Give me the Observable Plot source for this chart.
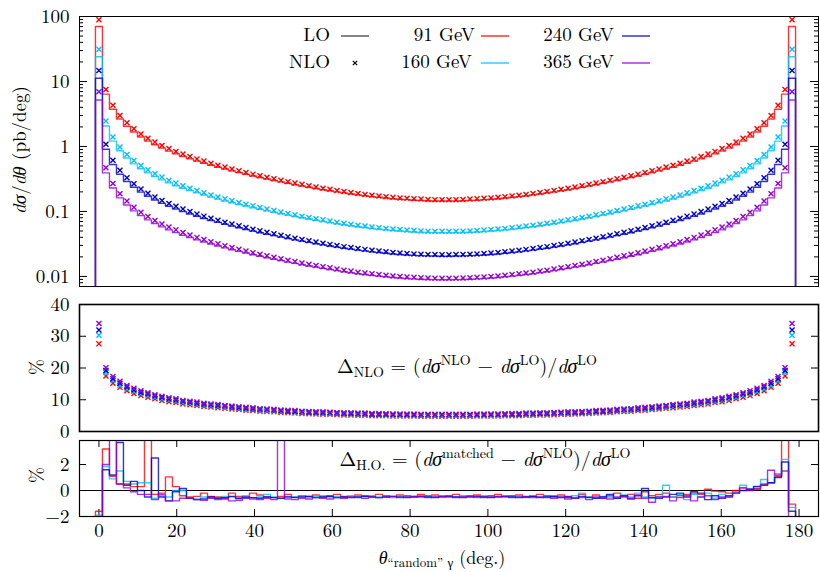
<!DOCTYPE html>
<html><head><meta charset="utf-8">
<script src="https://cdn.jsdelivr.net/npm/d3@7"></script>
<script src="https://cdn.jsdelivr.net/npm/@observablehq/plot@0.6"></script>
<style>
body{margin:0;background:#fff;}
#chart{position:relative;width:820px;height:572px;}
#chart svg{display:block;overflow:visible;}
</style></head><body><div id="chart"></div>
<script>
// ---------------- DATA ----------------
// bin positions (deg), 100 bins of 1.8 deg
const theta = d3.range(100).map(k => +(k * 1.8).toFixed(1));
const energies = ["91 GeV", "160 GeV", "240 GeV", "365 GeV"];
const colors = ["#ff0000", "#00bfff", "#0000cd", "#9400d3"];

// LO dσ/dθ (pb/deg)
const lo91 = [70,6.39,3.74,2.64,2.05,1.67,1.40,1.21,1.06,0.944,0.848,0.769,0.702,0.645,0.595,0.552,0.514,0.479,0.449,0.421,0.396,0.373,0.352,0.333,0.316,0.300,0.285,0.271,0.258,0.247,0.236,0.226,0.216,0.208,0.200,0.193,0.186,0.180,0.174,0.169,0.165,0.161,0.157,0.154,0.152,0.149,0.148,0.146,0.145,0.145,
0.145,0.145,0.146,0.148,0.149,0.152,0.154,0.157,0.161,0.165,0.169,0.174,0.180,0.186,0.193,0.200,0.208,0.216,0.226,0.236,0.247,0.258,0.271,0.285,0.300,0.316,0.333,0.352,0.373,0.396,0.421,0.449,0.479,0.514,0.552,0.595,0.645,0.702,0.769,0.848,0.944,1.06,1.21,1.40,1.67,2.05,2.64,3.74,6.39,70];
const lo160 = [24,2.07,1.21,0.857,0.663,0.540,0.455,0.392,0.344,0.306,0.275,0.249,0.228,0.209,0.193,0.179,0.166,0.155,0.145,0.136,0.128,0.121,0.114,0.108,0.102,0.0971,0.0923,0.0879,0.0838,0.0799,0.0765,0.0732,0.0702,0.0674,0.0648,0.0625,0.0603,0.0583,0.0565,0.0549,0.0534,0.0521,0.0509,0.0500,0.0491,0.0484,0.0478,0.0474,0.0471,0.0470,
0.0470,0.0471,0.0474,0.0478,0.0484,0.0491,0.0500,0.0509,0.0521,0.0534,0.0549,0.0565,0.0583,0.0603,0.0625,0.0648,0.0674,0.0702,0.0732,0.0765,0.0799,0.0838,0.0879,0.0923,0.0971,0.102,0.108,0.114,0.121,0.128,0.136,0.145,0.155,0.166,0.179,0.193,0.209,0.228,0.249,0.275,0.306,0.344,0.392,0.455,0.540,0.663,0.857,1.21,2.07,24];
const lo240 = [11.2,0.904,0.528,0.374,0.289,0.236,0.198,0.171,0.150,0.133,0.120,0.109,0.0993,0.0912,0.0842,0.0780,0.0726,0.0678,0.0634,0.0595,0.0560,0.0528,0.0498,0.0471,0.0446,0.0424,0.0403,0.0383,0.0365,0.0349,0.0334,0.0319,0.0306,0.0294,0.0283,0.0272,0.0263,0.0254,0.0247,0.0239,0.0233,0.0227,0.0222,0.0218,0.0214,0.0211,0.0209,0.0207,0.0206,0.0205,
0.0205,0.0206,0.0207,0.0209,0.0211,0.0214,0.0218,0.0222,0.0227,0.0233,0.0239,0.0247,0.0254,0.0263,0.0272,0.0283,0.0294,0.0306,0.0319,0.0334,0.0349,0.0365,0.0383,0.0403,0.0424,0.0446,0.0471,0.0498,0.0528,0.0560,0.0595,0.0634,0.0678,0.0726,0.0780,0.0842,0.0912,0.0993,0.109,0.120,0.133,0.150,0.171,0.198,0.236,0.289,0.374,0.528,0.904,11.2];
const lo365 = [5.2,0.392,0.229,0.162,0.126,0.102,0.0862,0.0743,0.0651,0.0579,0.0521,0.0472,0.0431,0.0396,0.0365,0.0339,0.0315,0.0294,0.0275,0.0258,0.0243,0.0229,0.0216,0.0205,0.0194,0.0184,0.0175,0.0166,0.0159,0.0151,0.0145,0.0139,0.0133,0.0128,0.0123,0.0118,0.0114,0.0110,0.0107,0.0104,0.0101,0.00987,0.00965,0.00946,0.00930,0.00917,0.00906,0.00898,0.00893,0.00890,
0.00890,0.00893,0.00898,0.00906,0.00917,0.00930,0.00946,0.00965,0.00987,0.0101,0.0104,0.0107,0.0110,0.0114,0.0118,0.0123,0.0128,0.0133,0.0139,0.0145,0.0151,0.0159,0.0166,0.0175,0.0184,0.0194,0.0205,0.0216,0.0229,0.0243,0.0258,0.0275,0.0294,0.0315,0.0339,0.0365,0.0396,0.0431,0.0472,0.0521,0.0579,0.0651,0.0743,0.0862,0.102,0.126,0.162,0.229,0.392,5.2];

// Δ_NLO (%)
const dn91 = [27.6,17.5,15.2,13.9,12.8,12.0,11.3,10.8,10.3,9.8,9.4,9.1,8.7,8.4,8.2,7.9,7.7,7.5,7.3,7.1,6.9,6.7,6.6,6.4,6.3,6.2,6.0,5.9,5.8,5.7,5.6,5.5,5.45,5.4,5.3,5.2,5.2,5.1,5.1,5.0,5.0,4.95,4.9,4.9,4.85,4.85,4.8,4.8,4.8,4.8,
4.8,4.8,4.8,4.8,4.85,4.85,4.9,4.9,4.95,5.0,5.0,5.1,5.1,5.2,5.2,5.3,5.4,5.45,5.5,5.6,5.7,5.8,5.9,6.0,6.2,6.3,6.4,6.6,6.7,6.9,7.1,7.3,7.5,7.7,7.9,8.2,8.4,8.7,9.1,9.4,9.8,10.3,10.8,11.3,12.0,12.8,13.9,15.2,17.5,27.6];
const dn160 = [30.3,18.6,16.0,14.6,13.4,12.6,11.9,11.3,10.8,10.3,9.9,9.6,9.1,8.8,8.6,8.3,8.1,7.9,7.7,7.5,7.2,7.0,6.9,6.7,6.6,6.5,6.3,6.2,6.1,6.0,5.9,5.8,5.7,5.7,5.6,5.5,5.5,5.4,5.4,5.25,5.25,5.2,5.15,5.15,5.1,5.1,5.05,5.05,5.05,5.05,
5.05,5.05,5.05,5.05,5.1,5.1,5.15,5.15,5.2,5.25,5.25,5.4,5.4,5.5,5.5,5.6,5.7,5.7,5.8,5.9,6.0,6.1,6.2,6.3,6.5,6.6,6.7,6.9,7.0,7.2,7.5,7.7,7.9,8.1,8.3,8.6,8.8,9.1,9.6,9.9,10.3,10.8,11.3,11.9,12.6,13.4,14.6,16.0,18.6,30.3];
const dn240 = [32.0,19.2,16.6,15.2,14.0,13.1,12.3,11.8,11.2,10.7,10.2,9.9,9.5,9.2,8.9,8.6,8.4,8.2,8.0,7.7,7.5,7.3,7.2,7.0,6.9,6.8,6.5,6.4,6.3,6.2,6.1,6.0,5.9,5.9,5.8,5.7,5.7,5.6,5.6,5.45,5.45,5.4,5.35,5.35,5.3,5.3,5.25,5.25,5.25,5.25,
5.25,5.25,5.25,5.25,5.3,5.3,5.35,5.35,5.4,5.45,5.45,5.6,5.6,5.7,5.7,5.8,5.9,5.9,6.0,6.1,6.2,6.3,6.4,6.5,6.8,6.9,7.0,7.2,7.3,7.5,7.7,8.0,8.2,8.4,8.6,8.9,9.2,9.5,9.9,10.2,10.7,11.2,11.8,12.3,13.1,14.0,15.2,16.6,19.2,32.0];
const dn365 = [34.0,20.1,17.3,15.8,14.5,13.6,12.8,12.2,11.6,11.1,10.6,10.3,9.8,9.5,9.3,8.9,8.7,8.5,8.2,8.0,7.8,7.6,7.5,7.2,7.1,7.0,6.8,6.7,6.6,6.4,6.3,6.2,6.2,6.1,6.0,5.9,5.9,5.8,5.8,5.65,5.65,5.6,5.55,5.55,5.5,5.5,5.4,5.4,5.4,5.4,
5.4,5.4,5.4,5.4,5.5,5.5,5.55,5.55,5.6,5.65,5.65,5.8,5.8,5.9,5.9,6.0,6.1,6.2,6.2,6.3,6.4,6.6,6.7,6.8,7.0,7.1,7.2,7.5,7.6,7.8,8.0,8.2,8.5,8.7,8.9,9.3,9.5,9.8,10.3,10.6,11.1,11.6,12.2,12.8,13.6,14.5,15.8,17.3,20.1,34.0];

// Δ_H.O. (%)
const dh91 = [-1.6,3.2,1.1,0.5,0.5,0.3,0.3,8,-0.3,-0.2,1.05,0.3,-0.4,-0.5,-0.45,-0.2,-0.45,-0.5,-0.6,-0.2,-0.45,-0.55,-0.2,-0.35,-0.5,-0.55,-0.45,-0.3,-0.5,-0.4,-0.45,-0.35,-0.5,-0.4,-0.3,-0.45,-0.5,-0.35,-0.4,-0.45,-0.3,-0.4,-0.5,-0.35,-0.4,-0.45,-0.3,-0.4,-0.35,-0.45,
-0.4,-0.3,-0.45,-0.4,-0.35,-0.5,-0.4,-0.3,-0.45,-0.4,-0.35,-0.5,-0.45,-0.3,-0.4,-0.5,-0.35,-0.45,-0.6,-0.3,-0.5,-0.35,-0.6,-0.4,-0.2,-0.5,-0.3,-0.6,-0.1,-0.4,-0.3,-0.2,-0.5,-0.4,-0.3,-0.2,-0.3,0.1,-0.05,-0.1,-0.2,0.0,0.2,0.1,0.15,0.5,0.6,1.1,8,-1.05];
const dh160 = [-1.9,1.85,0.9,1.5,0.7,0.5,0.6,0.6,-0.6,-0.4,-0.5,0.0,0.0,-0.6,-0.65,-0.5,-0.55,-0.6,-0.45,-0.5,-0.6,-0.4,-0.55,-0.5,-0.3,-0.5,-0.6,-0.45,-0.5,-0.4,-0.55,-0.45,-0.4,-0.5,-0.45,-0.55,-0.4,-0.5,-0.45,-0.4,-0.5,-0.45,-0.55,-0.4,-0.45,-0.5,-0.4,-0.45,-0.5,-0.4,
-0.45,-0.5,-0.4,-0.45,-0.55,-0.4,-0.5,-0.45,-0.4,-0.5,-0.45,-0.55,-0.4,-0.5,-0.45,-0.4,-0.5,-0.55,-0.4,-0.2,-0.5,-0.6,-0.45,-0.5,-0.6,-0.35,-0.5,-0.2,-0.5,-0.6,-0.45,0.4,-0.5,-0.3,-0.7,-0.3,-0.5,-0.2,-0.6,-0.3,-0.5,-0.1,0.4,0.1,0.33,0.85,0.6,1.3,2.4,-1.3];
const dh240 = [-2.5,1.6,1.2,3.7,0.4,0.7,0.0,-0.5,2.5,-0.5,-0.8,-0.1,0.15,-0.6,-0.7,-0.65,-0.5,-0.6,-0.55,-0.45,-0.6,-0.5,-0.55,-0.6,-0.5,-0.55,-0.6,-0.5,-0.55,-0.5,-0.45,-0.55,-0.5,-0.45,-0.55,-0.5,-0.55,-0.5,-0.45,-0.5,-0.55,-0.5,-0.45,-0.5,-0.55,-0.5,-0.45,-0.5,-0.55,-0.5,
-0.45,-0.5,-0.55,-0.5,-0.45,-0.5,-0.55,-0.5,-0.45,-0.5,-0.55,-0.5,-0.45,-0.55,-0.5,-0.45,-0.55,-0.5,-0.6,-0.45,-0.55,-0.6,-0.5,-0.3,-0.6,-0.4,-0.65,-0.4,0.15,-0.55,-0.6,-0.5,-0.3,-0.2,-0.5,-0.1,-0.2,-0.7,-0.4,-0.6,-0.4,-0.2,0.0,0.1,0.3,0.4,0.6,1.0,2.2,-1.6];
const dh365 = [-3,2.0,6,0.5,0.2,-0.1,-0.3,-0.3,-0.7,-0.3,-0.8,-0.8,-0.6,-0.6,-0.7,-0.75,-0.6,-0.7,-0.65,-0.8,-0.75,-0.6,-0.65,-0.7,-0.6,-0.7,8,-0.65,-0.7,-0.6,-0.65,-0.55,-0.6,-0.65,-0.55,-0.6,-0.5,-0.55,-0.6,-0.5,-0.55,-0.5,-0.45,-0.55,-0.5,-0.45,-0.5,-0.55,-0.5,-0.45,
-0.5,-0.55,-0.5,-0.45,-0.5,-0.55,-0.5,-0.45,-0.5,-0.55,-0.5,-0.45,-0.55,-0.5,-0.55,-0.6,-0.5,-0.65,-0.6,-0.55,-0.7,-0.5,-0.6,-0.65,-0.5,-0.45,-0.6,-0.35,-0.6,-0.9,-0.5,-0.45,-0.8,-0.55,-0.4,-0.8,-0.5,-0.4,-0.7,-0.5,-0.5,-0.2,0.2,0.0,0.1,0.4,1.56,1.2,1.5,-2.5];

const yTopTicks = [0.01, 0.1, 1, 10, 100];
const yTopMinor = [0.008,0.009,0.02,0.03,0.04,0.05,0.06,0.07,0.08,0.09,0.2,0.3,0.4,0.5,0.6,0.7,0.8,0.9,2,3,4,5,6,7,8,9,20,30,40,50,60,70,80,90];
const yMidTicks = [0, 10, 20, 30, 40];
const yBotTicks = [-2, 0, 2];
const xTicks = [0, 20, 40, 60, 80, 100, 120, 140, 160, 180];

// ---------------- BUILD ----------------
const LO = [lo91, lo160, lo240, lo365];
const DN = [dn91, dn160, dn240, dn365];
const DH = [dh91, dh160, dh240, dh365];
[...LO, ...DN, ...DH].forEach((a, i) => { if (a.length !== 100) throw new Error("array " + i + " has length " + a.length); });

const FONT = "'Latin Modern Roman', 'Liberation Serif', serif";
const W = 820, ML = 79, MR = 2, FW = W - ML - MR;
const xDomain = [-5, 185];
const baseStyle = {fontFamily: FONT, fontSize: "19px", color: "black", overflow: "visible"};

function stepRows(vals, low) {
  return [{x: -1.8, y: low}, ...vals.map((v, i) => ({x: theta[i], y: v})), {x: 180, y: low}];
}
function yTicksMarks(major, minor, len, minorLen, frameW) {
  const m = [
    Plot.tickY(major, {y: d => d, insetRight: frameW - len, stroke: "black"}),
    Plot.tickY(major, {y: d => d, insetLeft: frameW - len, stroke: "black"})
  ];
  if (minor) {
    m.push(Plot.tickY(minor, {y: d => d, insetRight: frameW - minorLen, stroke: "black"}));
    m.push(Plot.tickY(minor, {y: d => d, insetLeft: frameW - minorLen, stroke: "black"}));
  }
  return m;
}

// Top panel
const topMarks = [
  Plot.axisY({ticks: yTopTicks, tickSize: 0, tickPadding: 10, tickFormat: d => String(d), label: null}),
  ...yTicksMarks(yTopTicks, yTopMinor, 8, 4, FW)
];
LO.forEach((lo, s) => {
  topMarks.push(Plot.line(stepRows(lo, 1e-4), {x: "x", y: "y", curve: "step", stroke: colors[s], strokeWidth: 1.4, strokeOpacity: 0.8, clip: true}));
});
LO.forEach((lo, s) => {
  const rows = lo.map((v, i) => ({x: theta[i], y: v * (1 + DN[s][i] / 100)}));
  topMarks.push(Plot.dot(rows, {x: "x", y: "y", symbol: "times", r: 2.4, stroke: colors[s], strokeWidth: 1.4, clip: true}));
});
topMarks.push(Plot.frame({stroke: "black", strokeWidth: 1}));
const topPlot = Plot.plot({
  width: W, height: 290, marginLeft: ML, marginRight: MR, marginTop: 16, marginBottom: 4,
  style: {...baseStyle, background: "white"},
  x: {domain: xDomain, axis: null},
  y: {type: "log", domain: [0.007, 100], axis: null},
  marks: topMarks
});

// Middle panel
const midMarks = [
  Plot.axisY({ticks: yMidTicks, tickSize: 0, tickPadding: 10, label: null}),
  ...yTicksMarks(yMidTicks, null, 7, 0, FW)
];
DN.forEach((dn, s) => {
  const rows = dn.map((v, i) => ({x: theta[i], y: v}));
  midMarks.push(Plot.dot(rows, {x: "x", y: "y", symbol: "times", r: 2.4, stroke: colors[s], strokeWidth: 1.4, clip: true}));
});
midMarks.push(Plot.frame({stroke: "black", strokeWidth: 1.6}));
const midPlot = Plot.plot({
  width: W, height: 145, marginLeft: ML, marginRight: MR, marginTop: 14, marginBottom: 4,
  style: {...baseStyle, background: "transparent"},
  x: {domain: xDomain, axis: null},
  y: {domain: [0, 40], axis: null},
  marks: midMarks
});

// Bottom panel
const BH = 76;
const botMarks = [
  Plot.axisY({ticks: yBotTicks, tickSize: 0, tickPadding: 10, label: null, tickFormat: d => d < 0 ? "\u2212" + (-d) : String(d)}),
  Plot.axisX({ticks: xTicks, tickSize: 0, tickPadding: 7, label: null}),
  ...yTicksMarks(yBotTicks, null, 7, 0, FW),
  Plot.tickX(xTicks, {x: d => d, insetTop: BH - 7, stroke: "black"}),
  Plot.tickX(xTicks, {x: d => d, insetBottom: BH - 7, stroke: "black"}),
  Plot.ruleY([0], {stroke: "black", strokeWidth: 1})
];
DH.forEach((dh, s) => {
  botMarks.push(Plot.line(stepRows(dh, -10), {x: "x", y: "y", curve: "step", stroke: colors[s], strokeWidth: 1.4, strokeOpacity: 0.8, clip: true}));
});
botMarks.push(Plot.frame({stroke: "black", strokeWidth: 1.2}));
const botPlot = Plot.plot({
  width: W, height: 137, marginLeft: ML, marginRight: MR, marginTop: 5, marginBottom: 56,
  style: {...baseStyle, background: "transparent"},
  x: {domain: xDomain, axis: null},
  y: {domain: [-2, 3.85], axis: null},
  marks: botMarks
});

const chart = document.getElementById("chart");
chart.append(topPlot, midPlot, botPlot);

// ---------------- TEXT (titles, legend, annotations) ----------------
function addText(svg, x, y, parts, opts = {}) {
  const t = d3.select(svg).append("text")
    .attr("x", x).attr("y", y)
    .attr("font-family", FONT).attr("font-size", opts.size || 19).attr("fill", "black");
  if (opts.anchor) t.attr("text-anchor", opts.anchor);
  if (opts.rotate) t.attr("transform", `rotate(-90 ${x} ${y})`);
  for (const p of parts) {
    const s = t.append("tspan").text(p.t);
    if (p.i) s.attr("font-style", "italic");
    if (p.sz) s.attr("font-size", p.sz);
    if (p.dy) s.attr("dy", p.dy);
  }
  return t;
}

// y titles
addText(topPlot, 26, 150, [{t: "d\u03C3", i: 1}, {t: "/"}, {t: "d\u03B8", i: 1}, {t: " (pb/deg)"}], {anchor: "middle", rotate: 1});
addText(midPlot, 43, 367 - 290, [{t: "%"}], {anchor: "middle", rotate: 1});
addText(botPlot, 43, 475 - 435, [{t: "%"}], {anchor: "middle", rotate: 1});

// x title
addText(botPlot, 442, 564 - 435, [{t: "\u03B8", i: 1}, {t: "\u201Crandom\u201D \u03B3", sz: 13, dy: 3}, {t: " (deg.)", dy: -3}], {anchor: "middle", size: 18});

// annotations
addText(midPlot, 467, 373 - 290, [
  {t: "\u0394"}, {t: "NLO", sz: 14, dy: 4}, {t: " = (", dy: -4}, {t: "d\u03C3", i: 1}, {t: "NLO", sz: 14, dy: -8},
  {t: " \u2212 ", dy: 8}, {t: "d\u03C3", i: 1}, {t: "LO", sz: 14, dy: -8}, {t: ")/", dy: 8}, {t: "d\u03C3", i: 1}, {t: "LO", sz: 14, dy: -8}
], {anchor: "middle", size: 20});
addText(botPlot, 485, 466 - 435, [
  {t: "\u0394"}, {t: "H.O.", sz: 14, dy: 4}, {t: " = (", dy: -4}, {t: "d\u03C3", i: 1}, {t: "matched", sz: 14, dy: -8},
  {t: " \u2212 ", dy: 8}, {t: "d\u03C3", i: 1}, {t: "NLO", sz: 14, dy: -8}, {t: ")/", dy: 8}, {t: "d\u03C3", i: 1}, {t: "LO", sz: 14, dy: -8}
], {anchor: "middle", size: 20});

// legend
const lg = d3.select(topPlot);
addText(topPlot, 330, 41, [{t: "LO"}], {anchor: "end"});
addText(topPlot, 330, 68, [{t: "NLO"}], {anchor: "end"});
lg.append("line").attr("x1", 341).attr("x2", 369).attr("y1", 36).attr("y2", 36).attr("stroke", "#333").attr("stroke-width", 1.2);
lg.append("path").attr("d", d3.symbol(d3.symbolTimes, 14)()).attr("transform", "translate(355,63)").attr("stroke", "black").attr("stroke-width", 1.2).attr("fill", "none");
const legendItems = [
  {label: energies[0], c: colors[0], tx: 475, lx: 481, y: 36},
  {label: energies[1], c: colors[1], tx: 472, lx: 481, y: 63},
  {label: energies[2], c: colors[2], tx: 614, lx: 622, y: 36},
  {label: energies[3], c: colors[3], tx: 614, lx: 622, y: 63}
];
for (const it of legendItems) {
  addText(topPlot, it.tx, it.y + 5, [{t: it.label}], {anchor: "end"});
  lg.append("line").attr("x1", it.lx).attr("x2", it.lx + 28).attr("y1", it.y).attr("y2", it.y)
    .attr("stroke", it.c).attr("stroke-width", 1.6).attr("stroke-opacity", 0.75);
}
</script></body></html>
